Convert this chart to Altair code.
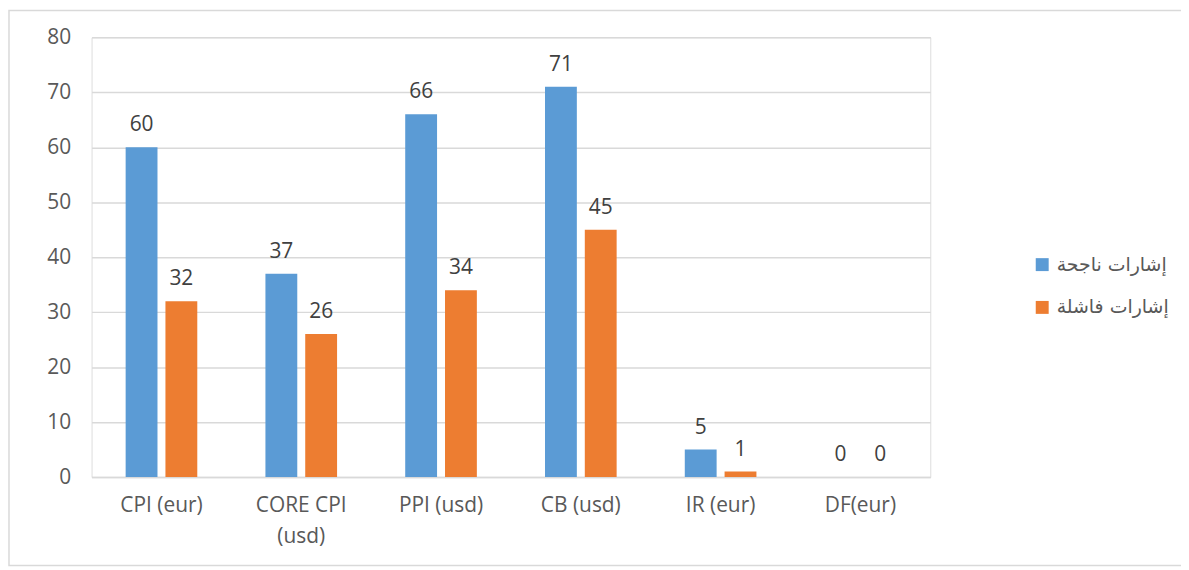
import altair as alt
import pandas as pd

categories = ["CPI (eur)", "CORE CPI (usd)", "PPI (usd)", "CB (usd)", "IR (eur)", "DF(eur)"]
series_names = ["إشارات ناجحة", "إشارات فاشلة"]
success = [60, 37, 66, 71, 5, 0]
failed = [32, 26, 34, 45, 1, 0]
colors = ["#5B9BD5", "#ED7D31"]
y_ticks = [0, 10, 20, 30, 40, 50, 60, 70, 80]

rows = []
for i, c in enumerate(categories):
    rows.append({"cat": c, "series": series_names[0], "value": success[i]})
    rows.append({"cat": c, "series": series_names[1], "value": failed[i]})
df = pd.DataFrame(rows)

FONT = "'Open Sans', Lato, 'DejaVu Sans', sans-serif"
TXT = "#595959"
W, H = 843, 442

x = alt.X("cat:N", sort=categories, title=None,
          scale=alt.Scale(paddingInner=0.4875, paddingOuter=0.24375),
          axis=alt.Axis(labelAngle=0, labelFontSize=21, labelColor=TXT, labelFont=FONT,
                        labelPadding=18, labelLineHeight=31, ticks=False,
                        domainColor="#D9D9D9", domainWidth=1.5, grid=False,
                        labelExpr="datum.value == 'CORE CPI (usd)' ? ['CORE CPI', '(usd)'] : datum.value"))
xo = alt.XOffset("series:N", sort=series_names,
                 scale=alt.Scale(paddingInner=0.2, paddingOuter=0))
y = alt.Y("value:Q", title=None,
          scale=alt.Scale(domain=[0, 80], nice=False),
          axis=alt.Axis(values=y_ticks, labelFontSize=21, labelColor=TXT, labelFont=FONT,
                        labelPadding=21, ticks=False, domain=False,
                        gridColor="#D9D9D9", gridWidth=1.5))
color = alt.Color("series:N", sort=series_names,
                  scale=alt.Scale(domain=series_names, range=colors),
                  legend=alt.Legend(title=None, orient="none", legendX=946, legendY=219,
                                    symbolType="square", symbolSize=169, symbolStrokeWidth=0,
                                    labelFontSize=19, labelColor=TXT,
                                    labelFont="'DejaVu Sans', 'Liberation Sans', sans-serif",
                                    rowPadding=23, labelOffset=5))

bars = alt.Chart(df).mark_bar().encode(x=x, xOffset=xo, y=y, color=color)
labels = alt.Chart(df).mark_text(fontSize=21, color="#404040", font=FONT,
                                 baseline="alphabetic", dy=-16).encode(
    x=alt.X("cat:N", sort=categories), xOffset=xo, y="value:Q",
    text="value:Q")

border_df = pd.DataFrame({"b": [1]})
border = alt.Chart(border_df).mark_rect(fill=None, stroke="#D9D9D9", strokeWidth=1.5).encode(
    x=alt.value(-83), x2=alt.value(1120), y=alt.value(-27), y2=alt.value(531))

chart = alt.layer(bars, labels, border).properties(
    width=W, height=H,
    autosize=alt.AutoSizeParams(type="none"),
    padding={"left": 84, "top": 28, "right": 252, "bottom": 90},
).configure_view(stroke=None).configure(background="white")

chart.save("out.html", embed_options={"renderer": "svg", "actions": False})
